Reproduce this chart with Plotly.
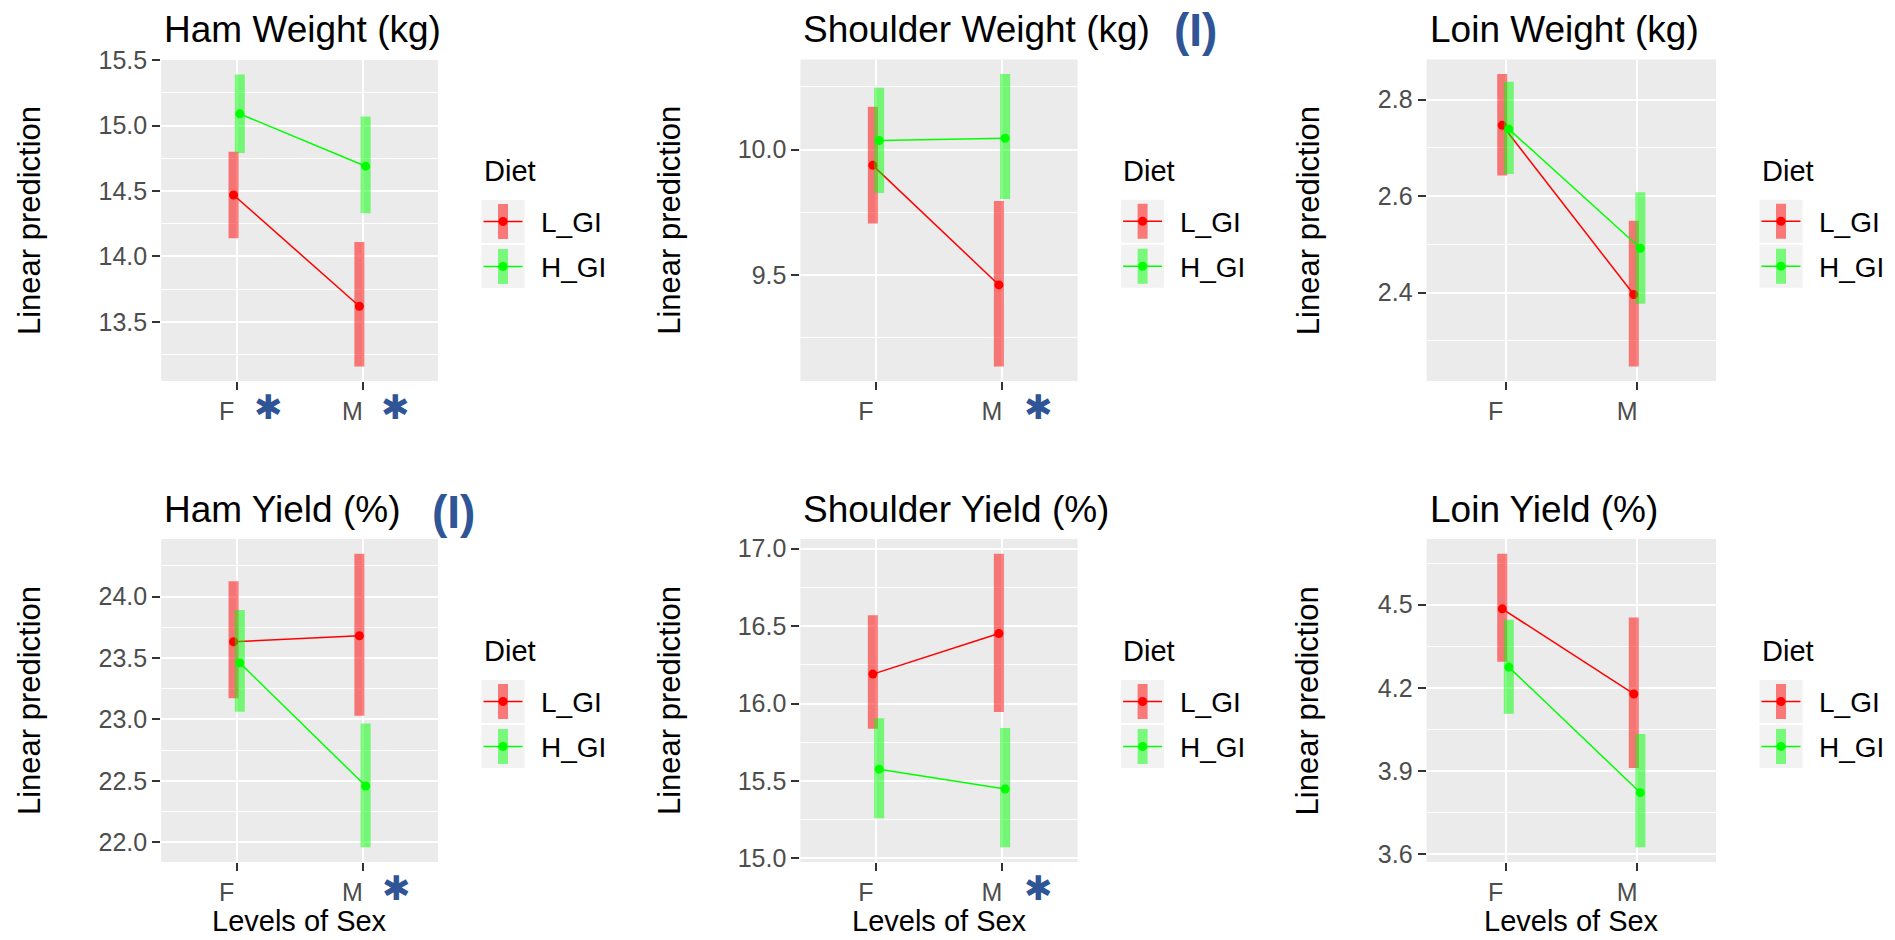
import plotly.graph_objects as go

W, H = 1895, 940
FONT = "Liberation Sans, Arial, sans-serif"

sexes = ["F", "M"]
diets = ["L_GI", "H_GI"]
diet_line = {"L_GI": "#FF0000", "H_GI": "#00FF00"}
diet_band = {"L_GI": "rgba(255,0,0,0.5)", "H_GI": "rgba(0,255,0,0.5)"}

titles = ["Ham Weight (kg)", "Shoulder Weight (kg)", "Loin Weight (kg)",
          "Ham Yield (%)", "Shoulder Yield (%)", "Loin Yield (%)"]

# Estimated marginal means (F, M) with 95% confidence limits
ham_weight = {"L_GI": [14.47, 13.62], "H_GI": [15.09, 14.69]}
ham_weight_lo = {"L_GI": [14.14, 13.16], "H_GI": [14.79, 14.33]}
ham_weight_hi = {"L_GI": [14.80, 14.11], "H_GI": [15.39, 15.07]}

shoulder_weight = {"L_GI": [9.937, 9.46], "H_GI": [10.036, 10.045]}
shoulder_weight_lo = {"L_GI": [9.705, 9.135], "H_GI": [9.827, 9.803]}
shoulder_weight_hi = {"L_GI": [10.171, 9.795], "H_GI": [10.247, 10.301]}

loin_weight = {"L_GI": [2.747, 2.396], "H_GI": [2.739, 2.492]}
loin_weight_lo = {"L_GI": [2.643, 2.247], "H_GI": [2.646, 2.377]}
loin_weight_hi = {"L_GI": [2.853, 2.549], "H_GI": [2.837, 2.608]}

ham_yield = {"L_GI": [23.632, 23.681], "H_GI": [23.460, 22.458]}
ham_yield_lo = {"L_GI": [23.172, 23.030], "H_GI": [23.063, 21.959]}
ham_yield_hi = {"L_GI": [24.125, 24.349], "H_GI": [23.891, 22.967]}

shoulder_yield = {"L_GI": [16.19, 16.452], "H_GI": [15.576, 15.448]}
shoulder_yield_lo = {"L_GI": [15.837, 15.946], "H_GI": [15.258, 15.071]}
shoulder_yield_hi = {"L_GI": [16.571, 16.968], "H_GI": [15.905, 15.842]}

loin_yield = {"L_GI": [4.485, 4.178], "H_GI": [4.275, 3.822]}
loin_yield_lo = {"L_GI": [4.294, 3.911], "H_GI": [4.107, 3.625]}
loin_yield_hi = {"L_GI": [4.684, 4.454], "H_GI": [4.446, 4.034]}

# y tick spacing per panel (tick0, dtick)
y_ticks = [(13.5, 0.5), (9.5, 0.5), (2.4, 0.2), (22.0, 0.5), (15.0, 0.5), (3.6, 0.3)]

panels = [
    (ham_weight, ham_weight_lo, ham_weight_hi),
    (shoulder_weight, shoulder_weight_lo, shoulder_weight_hi),
    (loin_weight, loin_weight_lo, loin_weight_hi),
    (ham_yield, ham_yield_lo, ham_yield_hi),
    (shoulder_yield, shoulder_yield_lo, shoulder_yield_hi),
    (loin_yield, loin_yield_lo, loin_yield_hi),
]

# layout geometry (pixels)
boxes = [
    (161.2, 438.0, 60.0, 381.0),
    (800.4, 1077.6, 59.5, 381.0),
    (1426.6, 1716.0, 59.5, 381.0),
    (161.2, 438.0, 539.0, 862.0),
    (800.4, 1077.6, 539.0, 862.0),
    (1426.6, 1716.0, 539.0, 862.0),
]
ytitle_x = [29.6, 669.6, 1307.9, 29.6, 669.6, 1307.9]
title_y = [30, 30, 30, 510, 510, 510]
dodge = {"L_GI": -0.025, "H_GI": 0.025}
stars = [(268, 407), (395.7, 407), (1038, 407), (396, 888), (1038, 888)]
marks_I = [(1195, 30), (453, 512)]
BLUE = "#2F5597"


def px(x):
    return x / W


def py(y):
    return 1 - y / H


fig = go.Figure()
layout = dict(width=W, height=H, margin=dict(l=0, r=0, t=0, b=0, pad=0, autoexpand=False),
              paper_bgcolor="white", plot_bgcolor="#EBEBEB", showlegend=False,
              font=dict(family=FONT))
annotations = []
shapes = []

for i, ((mean, lo, hi), box) in enumerate(zip(panels, boxes)):
    k = i + 1
    xa = "x" if k == 1 else f"x{k}"
    ya = "y" if k == 1 else f"y{k}"
    x0, x1, y0, y1 = box
    for d in diets:
        xs = [j + 1 + dodge[d] for j in range(len(sexes))]
        fig.add_trace(go.Scatter(
            x=xs, y=mean[d], mode="lines+markers", name=d,
            xaxis=xa, yaxis=ya,
            line=dict(color=diet_line[d], width=1.5),
            marker=dict(color=diet_line[d], size=9),
            error_y=dict(type="data", symmetric=False,
                         array=[h - m for h, m in zip(hi[d], mean[d])],
                         arrayminus=[m - l for l, m in zip(lo[d], mean[d])],
                         color=diet_band[d], thickness=10, width=0),
        ))
    allv = [v for d in diets for v in lo[d] + hi[d]]
    vmin, vmax = min(allv), max(allv)
    pad = 0.05 * (vmax - vmin)
    t0, dt = y_ticks[i]
    xkey = "xaxis" if k == 1 else f"xaxis{k}"
    ykey = "yaxis" if k == 1 else f"yaxis{k}"
    layout[xkey] = dict(domain=[px(x0), px(x1)], anchor=ya, range=[0.4, 2.6],
                        automargin=False,
                        tickmode="array", tickvals=[1, 2], ticktext=sexes,
                        showgrid=True, gridcolor="white", gridwidth=2,
                        zeroline=False, showline=False,
                        ticks="outside", ticklen=8, tickwidth=1.5, tickcolor="#333333",
                        tickfont=dict(size=25, color="#4D4D4D", family=FONT),
                        ticklabelshift=-10, fixedrange=True)
    layout[ykey] = dict(domain=[py(y1), py(y0)], anchor=xa,
                        automargin=False,
                        range=[vmin - pad, vmax + pad],
                        tickmode="linear", tick0=t0, dtick=dt, tickformat=".1f",
                        showgrid=True, gridcolor="white", gridwidth=2,
                        minor=dict(tick0=t0, dtick=dt / 2, showgrid=True,
                                   gridcolor="white", gridwidth=1.1),
                        zeroline=False, showline=False,
                        ticks="outside", ticklen=8, tickwidth=1.5, tickcolor="#333333",
                        tickfont=dict(size=25, color="#4D4D4D", family=FONT),
                        fixedrange=True)
    # panel title
    annotations.append(dict(text=titles[i], x=px(x0 + 1), y=py(title_y[i]),
                            xref="paper", yref="paper", xanchor="left", yanchor="middle",
                            showarrow=False, font=dict(size=37, color="black", family=FONT)))
    # y axis title
    cy = (y0 + y1) / 2
    annotations.append(dict(text="Linear prediction", x=px(ytitle_x[i]), y=py(cy),
                            xref="paper", yref="paper", xanchor="center", yanchor="middle",
                            textangle=-90, showarrow=False,
                            font=dict(size=31, color="black", family=FONT)))
    # x axis title on bottom row
    if i >= 3:
        annotations.append(dict(text="Levels of Sex", x=px((x0 + x1) / 2), y=py(921),
                                xref="paper", yref="paper", xanchor="center", yanchor="middle",
                                showarrow=False, font=dict(size=29, color="black", family=FONT)))
    # legend (ggplot-style keys)
    rx = x1 + 43.5
    annotations.append(dict(text="Diet", x=px(rx), y=py(cy - 49.5), xref="paper", yref="paper",
                            xanchor="left", yanchor="middle", showarrow=False,
                            font=dict(size=29, color="black", family=FONT)))
    for j, d in enumerate(diets):
        bt = cy - 20.5 + j * 45
        bb = bt + 43
        bc = (bt + bb) / 2
        kx = rx + 21.5
        shapes.append(dict(type="rect", xref="paper", yref="paper",
                           x0=px(rx), x1=px(rx + 43), y0=py(bb), y1=py(bt),
                           fillcolor="#F2F2F2", line=dict(width=0), layer="above"))
        shapes.append(dict(type="rect", xref="paper", yref="paper",
                           x0=px(kx - 5), x1=px(kx + 5), y0=py(bb - 4), y1=py(bt + 4),
                           fillcolor=diet_band[d], line=dict(width=0), layer="above"))
        shapes.append(dict(type="line", xref="paper", yref="paper",
                           x0=px(rx + 2), x1=px(rx + 41), y0=py(bc), y1=py(bc),
                           line=dict(color=diet_line[d], width=1.5), layer="above"))
        shapes.append(dict(type="circle", xref="paper", yref="paper",
                           x0=px(kx - 4.5), x1=px(kx + 4.5), y0=py(bc + 4.5), y1=py(bc - 4.5),
                           fillcolor=diet_line[d], line=dict(width=0), layer="above"))
        annotations.append(dict(text=d, x=px(rx + 57), y=py(bc + 1), xref="paper", yref="paper",
                                xanchor="left", yanchor="middle", showarrow=False,
                                font=dict(size=28, color="black", family=FONT)))

# significance marks
for sx, sy in stars:
    annotations.append(dict(text="\u2731", x=px(sx), y=py(sy), xref="paper", yref="paper",
                            xanchor="center", yanchor="middle", showarrow=False,
                            font=dict(size=34, color=BLUE, family="DejaVu Sans")))
for ix, iy in marks_I:
    annotations.append(dict(text="<b>(I)</b>", x=px(ix), y=py(iy), xref="paper", yref="paper",
                            xanchor="center", yanchor="middle", showarrow=False,
                            font=dict(size=46, color=BLUE, family=FONT)))

layout["annotations"] = annotations
layout["shapes"] = shapes
fig.update_layout(**layout)

fig.write_html("out.html", config={"displayModeBar": False},
               post_script="document.body.style.margin='0';document.body.style.overflow='hidden';")
